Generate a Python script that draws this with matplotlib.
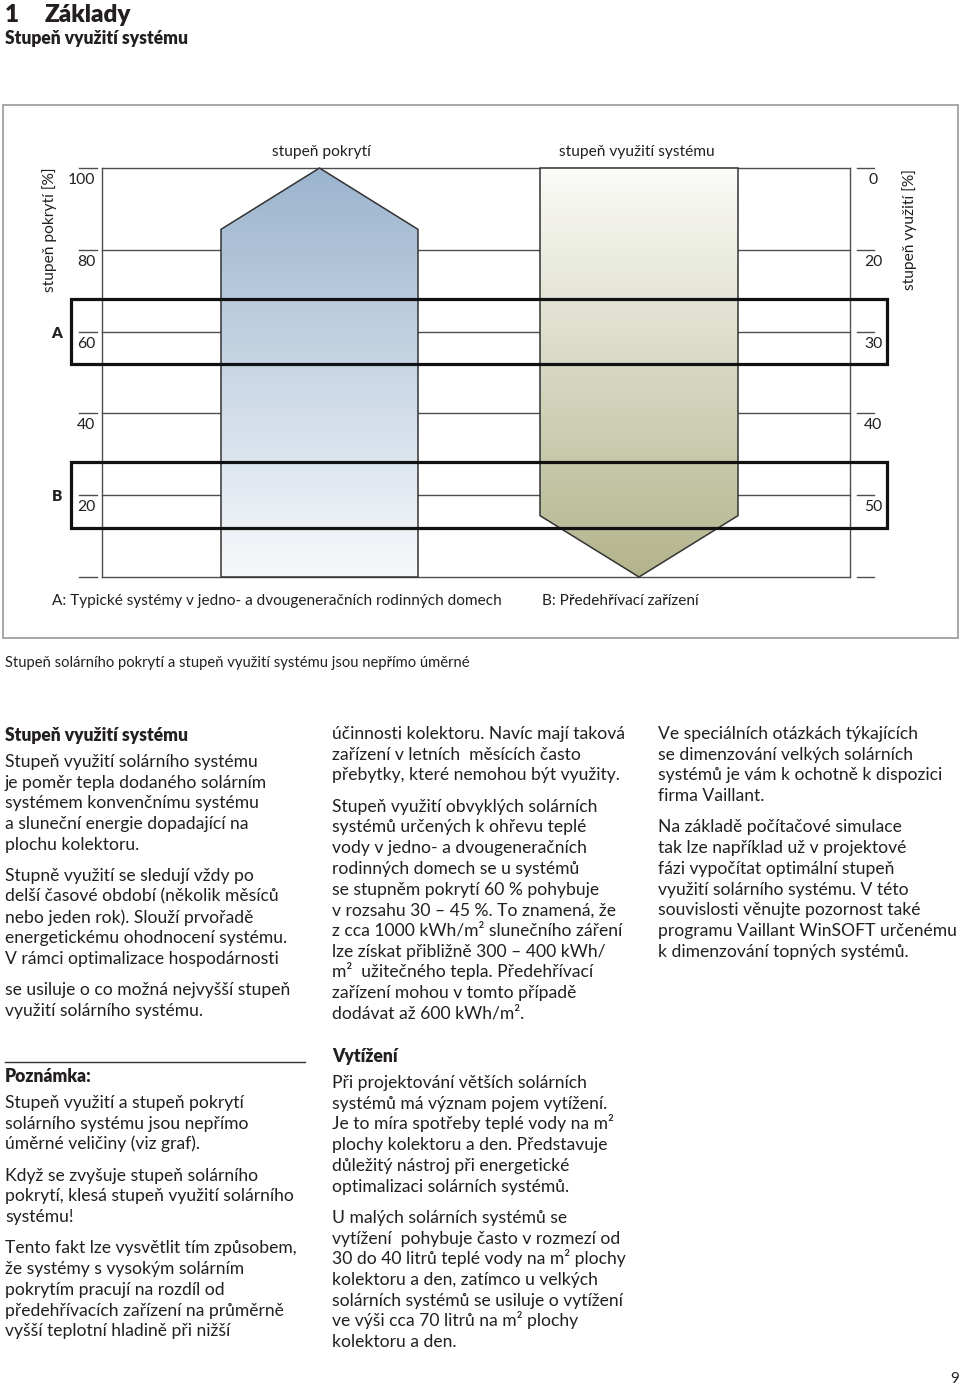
import matplotlib
matplotlib.use("Agg")
import matplotlib.pyplot as plt
import numpy as np
from matplotlib.colors import LinearSegmentedColormap
from matplotlib.patches import Polygon, Rectangle
from matplotlib.transforms import offset_copy

plt.rcParams["font.family"] = ["Lato", "DejaVu Sans"]

# diagram values, left scale = stupeň pokrytí [%]
cover_ticks = [100, 80, 60, 40, 20, 0]
cover_labels = ["100", "80", "60", "40", "20", ""]
usage_labels = ["0", "20", "30", "40", "50", ""]
range_a = (52, 68)
range_b = (12, 28)
cover_arrow = (100, 85, 0)   # apex, shoulder, base
usage_arrow = (100, 15, 0)   # top, shoulder, apex

col1 = [
    ["Stupeň využití solárního systému",
     "je poměr tepla dodaného solárním",
     "systémem konvenčnímu systému",
     "a sluneční energie dopadající na",
     "plochu kolektoru."],
    ["Stupně využití se sledují vždy po",
     "delší časové období (několik měsíců",
     "nebo jeden rok). Slouží prvořadě",
     "energetickému ohodnocení systému.",
     "V rámci optimalizace hospodárnosti"],
    ["se usiluje o co možná nejvyšší stupeň",
     "využití solárního systému."],
]
col2 = [
    ["účinnosti kolektoru. Navíc mají taková",
     "zařízení v letních  měsících často",
     "přebytky, které nemohou být využity."],
    ["Stupeň využití obvyklých solárních",
     "systémů určených k ohřevu teplé",
     "vody v jedno- a dvougeneračních",
     "rodinných domech se u systémů",
     "se stupněm pokrytí 60 % pohybuje",
     "v rozsahu 30 – 45 %. To znamená, že",
     "z cca 1000 kWh/m² slunečního záření",
     "lze získat přibližně 300 – 400 kWh/",
     "m²  užitečného tepla. Předehřívací",
     "zařízení mohou v tomto případě",
     "dodávat až 600 kWh/m²."],
]
col3 = [
    ["Ve speciálních otázkách týkajících",
     "se dimenzování velkých solárních",
     "systémů je vám k ochotně k dispozici",
     "firma Vaillant."],
    ["Na základě počítačové simulace",
     "tak lze například už v projektové",
     "fázi vypočítat optimální stupeň",
     "využití solárního systému. V této",
     "souvislosti věnujte pozornost také",
     "programu Vaillant WinSOFT určenému",
     "k dimenzování topných systémů."],
]
note = [
    ["Stupeň využití a stupeň pokrytí",
     "solárního systému jsou nepřímo",
     "úměrné veličiny (viz graf)."],
    ["Když se zvyšuje stupeň solárního",
     "pokrytí, klesá stupeň využití solárního",
     "systému!"],
    ["Tento fakt lze vysvětlit tím způsobem,",
     "že systémy s vysokým solárním",
     "pokrytím pracují na rozdíl od",
     "předehřívacích zařízení na průměrně",
     "vyšší teplotní hladině při nižší"],
]
load = [
    ["Při projektování větších solárních",
     "systémů má význam pojem vytížení.",
     "Je to míra spotřeby teplé vody na m²",
     "plochy kolektoru a den. Představuje",
     "důležitý nástroj při energetické",
     "optimalizaci solárních systémů."],
    ["U malých solárních systémů se",
     "vytížení  pohybuje často v rozmezí od",
     "30 do 40 litrů teplé vody na m² plochy",
     "kolektoru a den, zatímco u velkých",
     "solárních systémů se usiluje o vytížení",
     "ve výši cca 70 litrů na m² plochy",
     "kolektoru a den."],
]

TEXT = "#231f20"
BODY = 12.65
LINE = 20.7
PARA = 10.6
HEAVY = "heavy"

fig = plt.figure(figsize=(9.6, 13.87), dpi=100)
page = fig.add_axes([0, 0, 1, 1])
page.set_xlim(0, 960)
page.set_ylim(1387, 0)
page.axis("off")


def block(x, y, paragraphs):
    for para in paragraphs:
        for line in para:
            page.text(x, y, line, fontsize=BODY, color=TEXT, va="baseline")
            y += LINE
        y += PARA


# page header
page.text(5, 22, "1", fontsize=17.5, fontweight=HEAVY, color=TEXT, va="baseline")
page.text(45, 22, "Základy", fontsize=17.5, fontweight=HEAVY, color=TEXT, va="baseline")
page.text(5, 44, "Stupeň využití systému", fontsize=BODY, fontweight=HEAVY, color=TEXT, va="baseline")

# figure frame and captions
page.add_patch(Rectangle((3, 105), 955, 533, fill=False, ec="#a0a0a0", lw=1.3))
page.text(52, 605, "A: Typické systémy v jedno- a dvougeneračních rodinných domech",
          fontsize=11.1, color=TEXT, va="baseline")
page.text(542, 605, "B: Předehřívací zařízení", fontsize=11.1, color=TEXT, va="baseline")
page.text(5, 667, "Stupeň solárního pokrytí a stupeň využití systému jsou nepřímo úměrné",
          fontsize=10.6, color=TEXT, va="baseline")

# diagram axes: y in % of stupeň pokrytí, x in page pixels
x0, x1 = 102, 850
ax = fig.add_axes([x0 / 960, 1 - 577 / 1387, (x1 - x0) / 960, 409 / 1387])
ax.set_xlim(x0, x1)
ax.set_ylim(0, 100)
ax.axis("off")

grid_kw = dict(color="#4d4d4d", lw=1.0, zorder=1, clip_on=False)
for c in cover_ticks:
    ax.plot([x0, x1], [c, c], **grid_kw)
ax.plot([x0, x0], [0, 100], **grid_kw)
ax.plot([x1, x1], [0, 100], **grid_kw)


def gradient_arrow(verts, c_top, c_bottom):
    xs = [v[0] for v in verts]
    ys = [v[1] for v in verts]
    poly = Polygon(verts, closed=True, fill=False, ec="#333333", lw=1.1, zorder=3, clip_on=False)
    ax.add_patch(poly)
    cmap = LinearSegmentedColormap.from_list("grad", [c_bottom, c_top])
    im = ax.imshow(np.linspace(0, 1, 256).reshape(-1, 1), cmap=cmap, origin="lower",
                   aspect="auto", extent=(min(xs), max(xs), min(ys), max(ys)),
                   zorder=2, interpolation="bilinear")
    im.set_clip_path(poly)


apex, shoulder, base = cover_arrow
gradient_arrow([(221, base), (221, shoulder), (319.5, apex), (418, shoulder), (418, base)],
               "#9bb4ce", "#f7f9fb")
top, shoulder, apex = usage_arrow
gradient_arrow([(540, top), (540, shoulder), (639, apex), (738, shoulder), (738, top)],
               "#fbfbf8", "#b3b48c")
ax.set_xlim(x0, x1)
ax.set_ylim(0, 100)

for lo, hi in (range_a, range_b):
    ax.add_patch(Rectangle((71, lo), 887 - 71, hi - lo, fill=False, ec="#111111",
                           lw=2.3, zorder=4, clip_on=False))

below = offset_copy(ax.transData, fig=fig, y=-16, units="dots")
for c, left, right in zip(cover_ticks, cover_labels, usage_labels):
    ax.plot([79, 97], [c, c], color="#4d4d4d", lw=1.0, clip_on=False)
    ax.plot([857, 874], [c, c], color="#4d4d4d", lw=1.0, clip_on=False)
    ax.text(95, c, left, transform=below, fontsize=11.3, color=TEXT, ha="right", va="baseline")
    ax.text(873, c, right, transform=below, fontsize=11.3, color=TEXT, ha="center", va="baseline")

mid = offset_copy(ax.transData, fig=fig, y=-6, units="dots")
ax.text(57, sum(range_a) / 2, "A", transform=mid, fontsize=11, fontweight=HEAVY,
        color=TEXT, ha="center", va="baseline")
ax.text(57, sum(range_b) / 2, "B", transform=mid, fontsize=11, fontweight=HEAVY,
        color=TEXT, ha="center", va="baseline")

above = offset_copy(ax.transData, fig=fig, y=12, units="dots")
ax.text(321, 100, "stupeň pokrytí", transform=above, fontsize=11.2, color=TEXT,
        ha="center", va="baseline")
ax.text(637, 100, "stupeň využití systému", transform=above, fontsize=11.2, color=TEXT,
        ha="center", va="baseline")
page.text(50, 230, "stupeň pokrytí [%]", fontsize=11.2, color=TEXT, rotation=90,
          ha="center", va="center")
page.text(910, 230, "stupeň využití [%]", fontsize=11.2, color=TEXT, rotation=90,
          ha="center", va="center")

# body text
page.text(5, 741, "Stupeň využití systému", fontsize=BODY, fontweight=HEAVY, color=TEXT, va="baseline")
block(5, 767, col1)
block(332, 739, col2)
block(658, 739, col3)

page.plot([5, 305], [1062, 1062], color="#333333", lw=1.0)
page.text(5, 1082, "Poznámka:", fontsize=BODY, fontweight=HEAVY, color=TEXT, va="baseline")
block(5, 1108, note)
page.text(332, 1062, "Vytížení", fontsize=BODY, fontweight=HEAVY, color=TEXT, va="baseline")
block(332, 1088, load)

page.text(955, 1383, "9", fontsize=11, color=TEXT, ha="center", va="baseline")

fig.savefig("out.png", dpi=100)
